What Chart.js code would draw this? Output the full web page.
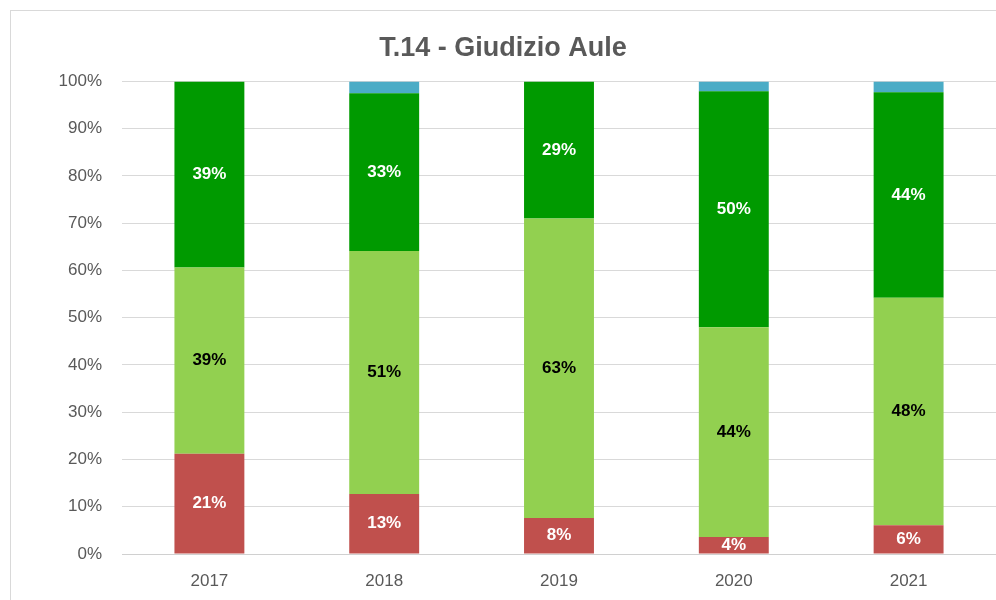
<!DOCTYPE html>
<html>
<head>
<meta charset="utf-8">
<script src="https://cdn.jsdelivr.net/npm/chart.js@4"></script>
<style>
  html, body { margin: 0; padding: 0; background: #fff; overflow: hidden; }
  #wrap { position: relative; width: 996px; height: 600px; }
  #frame { position: absolute; left: 10px; top: 10px; width: 1000px; height: 600px; border: 1px solid #d9d9d9; }
  canvas { position: absolute; left: 0; top: 0; }
</style>
</head>
<body>
<div id="wrap">
  <div id="frame"></div>
  <canvas id="barChart" width="996" height="600"></canvas>
</div>
<script>
const years = ['2017', '2018', '2019', '2020', '2021'];
// quote percentuali per giudizio (dal basso verso l'alto)
const negativo = [21.2, 12.7, 7.6, 3.6, 6.1];
const sufficiente = [39.4, 51.4, 63.4, 44.4, 48.1];
const buono = [39.4, 33.4, 29.0, 49.9, 43.5];
const altro = [0, 2.5, 0, 2.1, 2.3];
const yTicks = [0, 10, 20, 30, 40, 50, 60, 70, 80, 90, 100];

const labelColors = ['#ffffff', '#000000', '#ffffff', null];

const segmentLabels = {
    id: 'segmentLabels',
    afterDatasetsDraw(chart) {
        const ctx = chart.ctx;
        ctx.save();
        ctx.font = 'bold 17px "Liberation Sans", Arial, sans-serif';
        ctx.textAlign = 'center';
        ctx.textBaseline = 'middle';
        chart.data.datasets.forEach((ds, i) => {
            if (!labelColors[i]) return;
            const meta = chart.getDatasetMeta(i);
            meta.data.forEach((bar, j) => {
                const v = ds.data[j];
                if (!v) return;
                ctx.fillStyle = labelColors[i];
                ctx.fillText(Math.round(v) + '%', bar.x, (bar.y + bar.base) / 2);
            });
        });
        ctx.restore();
    }
};

const ctx = document.getElementById('barChart').getContext('2d');
const barChart = new Chart(ctx, {
    type: 'bar',
    data: {
        labels: years,
        datasets: [
            { label: 'Negativo', data: negativo, backgroundColor: '#c0504d' },
            { label: 'Sufficiente', data: sufficiente, backgroundColor: '#92d050' },
            { label: 'Buono', data: buono, backgroundColor: '#009a00' },
            { label: 'Altro', data: altro, backgroundColor: '#4bacc6' },
        ],
    },
    options: {
        responsive: false,
        animation: false,
        layout: { padding: { left: 10, right: 0, top: 10, bottom: 0 } },
        datasets: { bar: { categoryPercentage: 1, barPercentage: 0.4, borderWidth: 0 } },
        plugins: {
            legend: { display: false },
            tooltip: { enabled: false },
            title: {
                display: true,
                text: 'T.14 - Giudizio Aule',
                color: '#595959',
                font: { family: '"Liberation Sans", Arial, sans-serif', size: 27, weight: 'bold' },
                padding: { top: 22, bottom: 17 },
            },
        },
        scales: {
            x: {
                stacked: true,
                afterFit(scale) { scale.height = 46; },
                grid: { display: false },
                border: { display: true, color: '#d0d0d0', width: 1 },
                ticks: {
                    color: '#595959',
                    padding: 9,
                    font: { family: '"Liberation Sans", Arial, sans-serif', size: 17 },
                },
            },
            y: {
                stacked: true,
                min: 0,
                max: 100,
                afterFit(scale) { scale.width = 112; },
                afterBuildTicks(scale) { scale.ticks = yTicks.map(v => ({ value: v })); },
                grid: { color: '#d9d9d9', drawTicks: false },
                border: { display: false },
                ticks: {
                    color: '#595959',
                    padding: 20,
                    font: { family: '"Liberation Sans", Arial, sans-serif', size: 17 },
                    callback: v => v + '%',
                },
            },
        },
    },
    plugins: [segmentLabels],
});
</script>
</body>
</html>
